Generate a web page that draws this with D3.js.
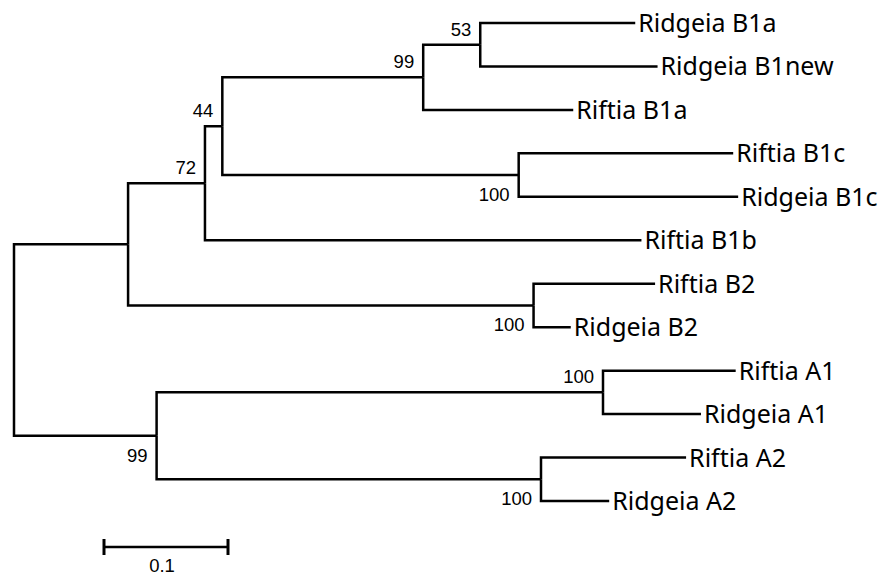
<!DOCTYPE html>
<html>
<head>
<meta charset="utf-8">
<script src="https://cdn.jsdelivr.net/npm/d3@7"></script>
<style>
  html, body { margin: 0; padding: 0; background: #fff; }
  svg { display: block; }
</style>
</head>
<body>
<svg id="chart" width="884" height="577"></svg>
<script>
// tree data: each node, its parent and the branch length to it
const nodeIds = [
  'root', 'U', 'L', 'n72', 'nB2', 'n44', 'Riftia B1b', 'n99', 'nB1c',
  'n53', 'Riftia B1a', 'Ridgeia B1a', 'Ridgeia B1new', 'Riftia B1c', 'Ridgeia B1c',
  'Riftia B2', 'Ridgeia B2', 'nA1', 'nA2', 'Riftia A1', 'Ridgeia A1', 'Riftia A2', 'Ridgeia A2'
]
const parentIds = [
  null, 'root', 'root', 'U', 'U', 'n72', 'n72', 'n44', 'n44',
  'n99', 'n99', 'n53', 'n53', 'nB1c', 'nB1c',
  'nB2', 'nB2', 'L', 'L', 'nA1', 'nA1', 'nA2', 'nA2'
]
const branchLengths = [
  0, 0.092, 0.115, 0.062, 0.327, 0.014, 0.352, 0.162, 0.239,
  0.046, 0.121, 0.125, 0.143, 0.173, 0.177,
  0.098, 0.030, 0.360, 0.310, 0.107, 0.079, 0.117, 0.055
]
// leaf order top to bottom
const leafOrder = [
  'Ridgeia B1a', 'Ridgeia B1new', 'Riftia B1a', 'Riftia B1c', 'Ridgeia B1c', 'Riftia B1b',
  'Riftia B2', 'Ridgeia B2', 'Riftia A1', 'Ridgeia A1', 'Riftia A2', 'Ridgeia A2'
]
// bootstrap support
const supportNodes = ['n53', 'n99', 'n44', 'n72', 'nB1c', 'nB2', 'L', 'nA1', 'nA2']
const supportValues = [53, 99, 44, 72, 100, 100, 99, 100, 100]
const scaleBarValue = 0.1

// label placement (below the node instead of above)
const supportBelow = new Set(['nB1c', 'nB2', 'L', 'nA2'])

const svg = d3.select('#chart')

const rows = nodeIds.map((id, i) => ({ id, parent: parentIds[i], len: branchLengths[i] }))
const root = d3.stratify().id(d => d.id).parentId(d => d.parent)(rows)

// keep children in leaf order
const leafRank = new Map(leafOrder.map((n, i) => [n, i]))
function minRank(n) {
  return n.children ? d3.min(n.children, minRank) : leafRank.get(n.id)
}
root.sort((a, b) => minRank(a) - minRank(b))

// cumulative distance from root
root.eachBefore(n => { n.dist = n.parent ? n.parent.dist + n.data.len : 0 })

const x = d3.scaleLinear().domain([0, 1]).range([14, 14 + 1240])
const y = d3.scalePoint().domain(leafOrder).range([23, 501])

root.eachAfter(n => {
  n.px = x(n.dist)
  if (n.children) {
    n.py = (n.children[0].py + n.children[n.children.length - 1].py) / 2
  } else {
    n.py = y(n.id)
  }
})

const g = svg.append('g')

// elbow branches
g.selectAll('path.branch')
  .data(root.descendants().filter(d => d.parent))
  .join('path')
  .attr('class', 'branch')
  .attr('d', d => `M${d.parent.px},${d.parent.py}V${d.py}H${d.px}`)
  .attr('fill', 'none')
  .attr('stroke', '#000')
  .attr('stroke-width', 2.5)
  .attr('stroke-linejoin', 'miter')

// leaf labels
g.selectAll('text.leaf')
  .data(root.leaves())
  .join('text')
  .attr('class', 'leaf')
  .attr('x', d => d.px + 3)
  .attr('y', d => d.py + 9)
  .attr('font-family', '"Noto Sans", sans-serif')
  .attr('font-size', 25)
  .attr('fill', '#000')
  .text(d => d.id)

// support values
const supportMap = new Map(supportNodes.map((n, i) => [n, supportValues[i]]))
g.selectAll('text.support')
  .data(root.descendants().filter(d => supportMap.has(d.id)))
  .join('text')
  .attr('class', 'support')
  .attr('x', d => d.px - 9)
  .attr('y', d => supportBelow.has(d.id) ? d.py + 26 : d.py - 9)
  .attr('text-anchor', 'end')
  .attr('font-family', '"Liberation Sans", Arial, sans-serif')
  .attr('font-size', 18.5)
  .attr('fill', '#000')
  .text(d => supportMap.get(d.id))

// scale bar
const barX0 = 104, barY = 547
const barX1 = barX0 + (x(scaleBarValue) - x(0))
const bar = svg.append('g').attr('stroke', '#000')
bar.append('line').attr('x1', barX0).attr('x2', barX1).attr('y1', barY).attr('y2', barY).attr('stroke-width', 2.5)
bar.append('line').attr('x1', barX0).attr('x2', barX0).attr('y1', barY - 8).attr('y2', barY + 8).attr('stroke-width', 3)
bar.append('line').attr('x1', barX1).attr('x2', barX1).attr('y1', barY - 8).attr('y2', barY + 8).attr('stroke-width', 3)
svg.append('text')
  .attr('x', (barX0 + barX1) / 2 - 4)
  .attr('y', 572)
  .attr('text-anchor', 'middle')
  .attr('font-family', '"Liberation Sans", Arial, sans-serif')
  .attr('font-size', 18.5)
  .text(scaleBarValue)
</script>
</body>
</html>
